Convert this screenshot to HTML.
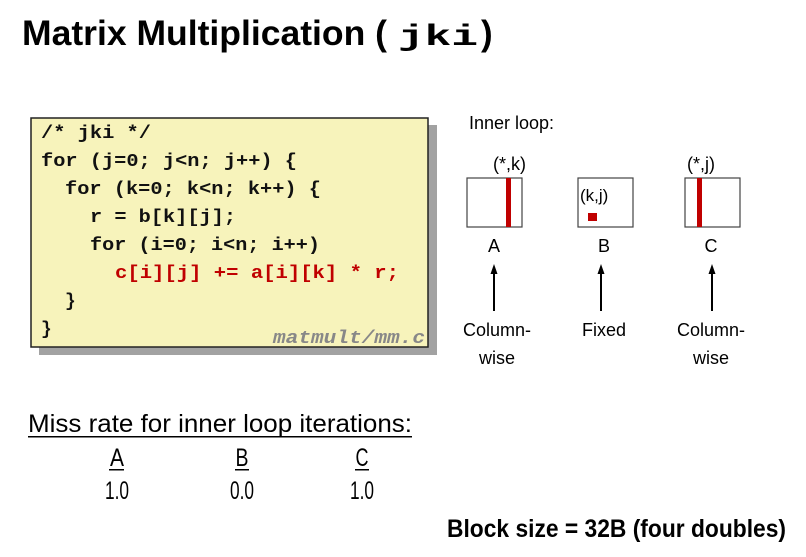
<!DOCTYPE html>
<html><head><meta charset="utf-8"><style>
html,body{margin:0;padding:0;background:#fff;}
svg{display:block;}
</style></head><body>
<svg width="806" height="557" viewBox="0 0 806 557" xmlns="http://www.w3.org/2000/svg">
<defs><marker id="ah" markerUnits="userSpaceOnUse" markerWidth="10" markerHeight="10" refX="2" refY="4" orient="auto"><path d="M0,0.5 L10,4 L0,7.5 z" fill="#000"/></marker></defs>
<text x="22" y="45" font-family="Liberation Sans, sans-serif" font-weight="bold" font-size="35" textLength="365" lengthAdjust="spacingAndGlyphs">Matrix Multiplication (</text>
<text x="398" y="45" font-family="Liberation Mono, monospace" font-weight="bold" font-size="30" textLength="80" lengthAdjust="spacingAndGlyphs">jki</text>
<text x="481" y="45" font-family="Liberation Sans, sans-serif" font-weight="bold" font-size="35">)</text>

<rect x="39" y="125" width="398" height="230" fill="#555" opacity="0.55"/>
<rect x="31" y="118" width="397" height="229" fill="#f7f3bb" stroke="#222" stroke-width="1.5"/>
<g font-family="Liberation Mono, monospace" font-weight="bold" font-size="18" fill="#111">
<text x="41" y="138" textLength="110" lengthAdjust="spacingAndGlyphs">/* jki */</text>
<text x="41" y="166" textLength="256" lengthAdjust="spacingAndGlyphs">for (j=0; j&lt;n; j++) {</text>
<text x="65" y="194" textLength="256" lengthAdjust="spacingAndGlyphs">for (k=0; k&lt;n; k++) {</text>
<text x="90" y="222" textLength="146" lengthAdjust="spacingAndGlyphs">r = b[k][j];</text>
<text x="90" y="250" textLength="230" lengthAdjust="spacingAndGlyphs">for (i=0; i&lt;n; i++)</text>
<text x="115" y="278" textLength="284" lengthAdjust="spacingAndGlyphs" fill="#c00000">c[i][j] += a[i][k] * r;</text>
<text x="65" y="306">}</text>
<text x="41" y="334">}</text>
<text x="273" y="343" font-style="italic" fill="#888" textLength="152" lengthAdjust="spacingAndGlyphs">matmult/mm.c</text>
</g>

<g font-family="Liberation Sans, sans-serif" font-size="18" fill="#000">
<text x="469" y="129">Inner loop:</text>
<text x="493" y="170">(*,k)</text>
<text x="687" y="170">(*,j)</text>
<rect x="467" y="178" width="55" height="49" fill="#fff" stroke="#444" stroke-width="1.2"/>
<rect x="506" y="178" width="5" height="49" fill="#c00000"/>
<rect x="578" y="178" width="55" height="49" fill="#fff" stroke="#444" stroke-width="1.2"/>
<text x="580" y="201" font-size="17">(k,j)</text>
<rect x="588" y="213" width="9" height="8" fill="#c00000"/>
<rect x="685" y="178" width="55" height="49" fill="#fff" stroke="#444" stroke-width="1.2"/>
<rect x="697" y="178" width="5" height="49" fill="#c00000"/>
<text x="494" y="252" text-anchor="middle">A</text>
<text x="604" y="252" text-anchor="middle">B</text>
<text x="711" y="252" text-anchor="middle">C</text>
<line x1="494" y1="311" x2="494" y2="272" stroke="#000" stroke-width="2" marker-end="url(#ah)"/>
<line x1="601" y1="311" x2="601" y2="272" stroke="#000" stroke-width="2" marker-end="url(#ah)"/>
<line x1="712" y1="311" x2="712" y2="272" stroke="#000" stroke-width="2" marker-end="url(#ah)"/>
<text x="497" y="336" text-anchor="middle">Column-</text>
<text x="497" y="364" text-anchor="middle">wise</text>
<text x="604" y="336" text-anchor="middle">Fixed</text>
<text x="711" y="336" text-anchor="middle">Column-</text>
<text x="711" y="364" text-anchor="middle">wise</text>
</g>

<g font-family="Liberation Sans, sans-serif" font-size="25" fill="#000">
<text x="28" y="432" textLength="384" lengthAdjust="spacingAndGlyphs">Miss rate for inner loop iterations:</text>
<rect x="28" y="436" width="384" height="1.5" fill="#000"/>
<text x="117" y="466" text-anchor="middle" textLength="14" lengthAdjust="spacingAndGlyphs">A</text>
<rect x="109" y="469" width="15" height="1.5"/>
<text x="242" y="466" text-anchor="middle" textLength="13" lengthAdjust="spacingAndGlyphs">B</text>
<rect x="235" y="469" width="14" height="1.5"/>
<text x="362" y="466" text-anchor="middle" textLength="13" lengthAdjust="spacingAndGlyphs">C</text>
<rect x="355" y="469" width="14" height="1.5"/>
<text x="117" y="499" text-anchor="middle" textLength="24" lengthAdjust="spacingAndGlyphs">1.0</text>
<text x="242" y="499" text-anchor="middle" textLength="24" lengthAdjust="spacingAndGlyphs">0.0</text>
<text x="362" y="499" text-anchor="middle" textLength="24" lengthAdjust="spacingAndGlyphs">1.0</text>
<text x="447" y="537" font-weight="bold" font-size="25" textLength="339" lengthAdjust="spacingAndGlyphs">Block size = 32B (four doubles)</text>
</g>
</svg>
</body></html>
